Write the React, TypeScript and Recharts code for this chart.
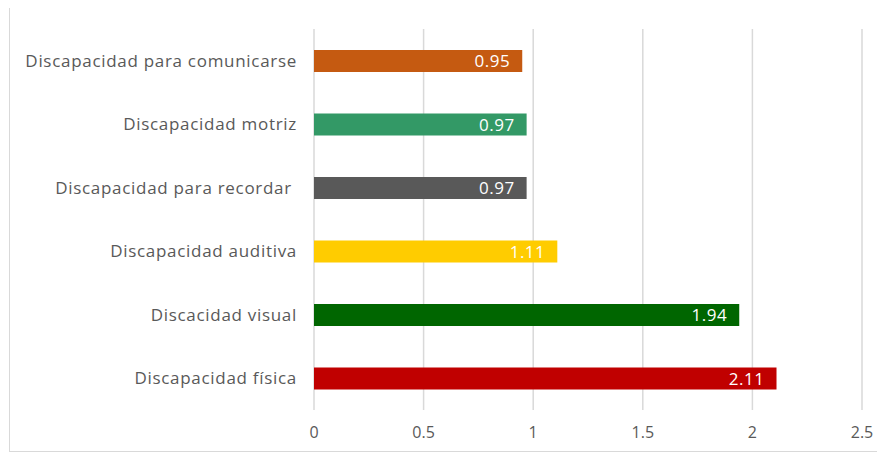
import React from "react";
import { BarChart, Bar, XAxis, YAxis, CartesianGrid, Cell, LabelList } from "recharts";

const categories = [
  "Discapacidad para comunicarse",
  "Discapacidad motriz",
  "Discapacidad para recordar ",
  "Discapacidad auditiva",
  "Discacidad visual",
  "Discapacidad física",
];
const values = [0.95, 0.97, 0.97, 1.11, 1.94, 2.11];
const colors = ["#C55A11", "#339966", "#595959", "#FFCC00", "#006600", "#C00000"];
const xTicks = [0, 0.5, 1, 1.5, 2, 2.5];

const data = categories.map((name, i) => ({ name, value: values[i] }));

export default function App() {
  return (
    <div style={{ position: "relative", width: 885, height: 452, margin: "-8px 0 0 -8px", background: "#fff", overflow: "hidden" }}>
      <div style={{ position: "absolute", left: 9, top: 6, width: 900, height: 446, border: "1px solid #d9d9d9", boxSizing: "border-box" }} />
      <div style={{ position: "absolute", left: 0, top: 0 }}>
        <BarChart
          width={885}
          height={452}
          data={data}
          layout="vertical"
          margin={{ top: 29, right: 23, left: 0, bottom: 0 }}
        >
          <CartesianGrid horizontal={false} stroke="#d9d9d9" strokeWidth={1.5} />
          <XAxis
            type="number"
            domain={[0, 2.5]}
            ticks={xTicks}
            axisLine={false}
            tickLine={false}
            tickSize={0}
            tickMargin={17}
            height={42}
            interval={0}
            tick={{ fill: "#595959", fontSize: 16, fontFamily: "Open Sans" }}
          />
          <YAxis
            type="category"
            dataKey="name"
            width={314}
            axisLine={false}
            tickLine={false}
            tickSize={0}
            tickMargin={17}
            interval={0}
            tickFormatter={(v: string) => v.replace(/ $/, "\u00a0")}
            tick={{ fill: "#595959", fontSize: 17, fontFamily: "Open Sans", letterSpacing: 0.7 }}
          />
          <Bar dataKey="value" barSize={22} isAnimationActive={false}>
            {data.map((d, i) => (
              <Cell key={d.name} fill={colors[i]} />
            ))}
            <LabelList
              dataKey="value"
              position="insideRight"
              offset={12}
              fill="#ffffff"
              style={{ fontSize: 17, fontFamily: "Open Sans", letterSpacing: 0.5 }}
            />
          </Bar>
        </BarChart>
      </div>
    </div>
  );
}
